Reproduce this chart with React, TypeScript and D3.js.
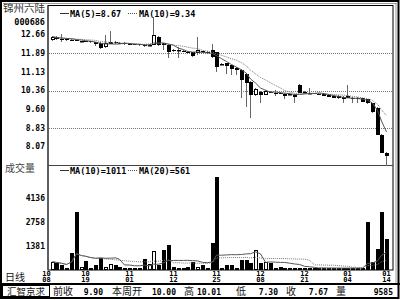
import React from "react";
import * as d3 from "d3";

const stockName = "锦州六陆";
const stockCode = "000686";

const tradeDates = [
  "10/08","10/11","10/12","10/13","10/14","10/15","10/18","10/19","10/20","10/21",
  "10/22","10/25","10/26","10/27","10/28","10/29","11/01","11/02","11/03","11/04",
  "11/05","11/08","11/09","11/10","11/11","11/12","11/15","11/16","11/17","11/18",
  "11/19","11/22","11/23","11/24","11/25","11/26","11/29","11/30","12/01","12/02",
  "12/03","12/06","12/07","12/08","12/09","12/10","12/13","12/14","12/15","12/16",
  "12/17","12/20","12/21","12/22","12/23","12/24","12/27","12/28","12/29","12/30",
  "12/31","01/04","01/05","01/06","01/07","01/10","01/11","01/12","01/13","01/14",
];

const opens = [
  12.45,12.57,12.49,12.47,12.45,12.43,12.39,12.39,12.37,12.33,
  12.29,12.16,12.28,12.33,12.31,12.31,12.27,12.26,12.25,12.24,
  12.20,12.24,12.57,12.29,12.24,12.02,12.02,12.00,11.96,11.92,
  11.88,11.98,11.96,12.04,11.92,11.41,11.47,11.39,11.30,11.22,
  11.06,10.73,10.20,10.32,10.20,10.32,10.28,10.28,10.24,10.20,
  10.20,10.61,10.30,10.28,10.26,10.24,10.24,10.20,10.16,10.16,
  10.11,10.15,10.07,10.07,10.05,10.00,9.84,9.66,8.55,7.82,
];
const closes = [
  12.57,12.49,12.47,12.45,12.43,12.39,12.40,12.35,12.33,12.25,
  12.12,12.30,12.35,12.29,12.29,12.27,12.25,12.24,12.22,12.18,
  12.24,12.65,12.24,12.24,11.96,12.00,12.04,11.96,11.88,11.79,
  12.04,11.94,11.88,11.75,11.34,11.43,11.36,11.26,11.22,10.81,
  10.69,10.20,10.44,10.20,10.36,10.28,10.26,10.24,10.16,10.24,
  10.11,10.28,10.32,10.28,10.24,10.22,10.16,10.11,10.07,10.05,
  10.03,10.07,10.04,10.01,9.90,9.84,9.47,8.55,7.82,7.67,
];
const highs = [
  12.61,12.61,12.66,12.53,12.49,12.45,12.41,12.41,12.39,12.35,
  12.33,12.65,12.78,12.37,12.33,12.33,12.29,12.28,12.27,12.26,
  12.27,13.39,12.61,12.31,12.26,12.06,12.16,12.02,11.98,11.96,
  12.57,12.00,11.98,12.25,11.94,11.47,11.49,11.41,11.32,11.24,
  11.08,10.75,10.48,10.36,10.38,10.34,10.40,10.30,10.26,10.26,
  10.24,10.63,10.34,10.48,10.28,10.26,10.26,10.22,10.18,10.18,
  10.13,10.61,10.09,10.09,10.07,10.01,9.86,9.68,8.57,7.84,
];
const lows = [
  12.41,12.45,12.33,12.41,12.40,12.37,12.36,12.33,12.31,12.20,
  12.08,12.12,12.25,12.25,12.27,12.24,12.23,12.22,12.20,12.16,
  12.18,12.22,12.20,12.04,11.71,11.96,11.71,11.92,11.85,11.75,
  11.83,11.90,11.85,11.71,11.14,11.39,11.06,11.02,11.02,10.07,
  9.70,9.25,10.16,9.87,10.18,10.26,10.16,10.22,10.03,10.18,
  9.87,10.26,10.28,10.24,10.22,10.20,10.14,10.09,10.05,10.03,
  9.87,10.05,9.87,9.87,9.88,9.82,9.45,8.53,7.80,7.30,
];
const volumes = [
  475,400,290,115,995,3350,170,535,120,290,
  706,170,345,290,170,115,115,115,115,630,
  345,1110,290,1150,1436,170,130,130,150,460,
  200,290,115,1550,5340,130,290,290,115,575,
  575,400,1150,400,460,400,130,150,120,140,
  120,100,110,130,100,110,120,100,110,110,
  110,100,105,110,100,2780,460,1210,3350,1785,
];

const priceTicks = [12.66, 11.89, 11.13, 10.36, 9.6, 8.83, 8.07];
const priceGrid = [11.89, 10.36, 8.83];
const volumeTicks = [4136, 2758, 1381];
const dateLabels = ["10/08","10/19","11/01","11/12","11/25","12/08","12/21","01/04","01/14"];

const MONO = "'DejaVu Sans Mono', monospace";
const CJK = "'Noto Sans CJK SC', sans-serif";

function movingAvg(arr: number[], n: number): number[] {
  return arr.map((_, i) => d3.mean(arr.slice(Math.max(0, i - n + 1), i + 1)) as number);
}

export default function App() {
  const W = 400, H = 300;
  const L = 48, R = 393, pTop = 5.5, pBot = 165, vBot = 270;
  const n = closes.length;
  const idx = d3.range(n);

  const x = d3.scaleBand<number>().domain(idx).range([49.6, 389.2]);
  const cx = (i: number) => Math.floor((x(i) as number) + x.bandwidth() / 2) + 0.5;
  const yP = d3.scaleLinear().domain([d3.min(lows) as number, 13.8]).range([165.5, 6.5]);
  const vStep = volumeTicks[0] - volumeTicks[1];
  const yV = d3.scaleLinear().domain([0, volumeTicks[0] + vStep]).range([vBot, 174]);

  const ma5 = movingAvg(closes, 5);
  const ma10 = movingAvg(closes, 10);
  const vma10 = movingAvg(volumes, 10);
  const vma20 = movingAvg(volumes, 20);

  const lineP = (arr: number[]) =>
    d3.line<number>().x((_, i) => cx(i)).y((d) => yP(d))(arr) as string;
  const lineV = (arr: number[]) =>
    d3.line<number>().x((_, i) => cx(i)).y((d) => yV(d))(arr) as string;

  const wk = idx.slice(n - 5);
  const prevClose = closes[n - 6];
  const weekOpen = opens[n - 5];
  const weekHigh = d3.max(wk, (i) => highs[i]) as number;
  const weekLow = d3.min(wk, (i) => lows[i]) as number;
  const weekClose = closes[n - 1];
  const weekVol = d3.sum(wk, (i) => volumes[i]);

  const up = (i: number) => closes[i] >= opens[i];

  return (
    <div style={{ position: "fixed", left: 0, top: 0, width: W, height: H, background: "#fff" }}>
      <svg width={W} height={H} style={{ display: "block" }}>
        <rect x={0} y={0} width={W} height={H} fill="#fff" />
        {/* frame */}
        <rect x={1} y={1} width={397.5} height={297} fill="none" stroke="#000" strokeWidth={2} />
        <line x1={3} x2={396.5} y1={3.5} y2={3.5} stroke="#999" />
        <line x1={396} x2={396} y1={3} y2={284} stroke="#999" />
        <rect x={L} y={pTop} width={R - L} height={vBot - pTop} fill="none" stroke="#000" strokeWidth={1} />
        <line x1={L} x2={L} y1={pTop} y2={vBot} stroke="#555" strokeWidth={1.5} />
        <line x1={L} x2={R} y1={pBot + 0.5} y2={pBot + 0.5} stroke="#444" strokeWidth={1} />
        <line x1={0} x2={W} y1={284} y2={284} stroke="#000" strokeWidth={2} />

        {/* header labels */}
        <text x={3} y={11.5} fontFamily={CJK} fontSize={10.5} fill="#333">{stockName}</text>
        <text x={45} y={24.5} textAnchor="end" fontFamily={MONO} fontWeight="bold" fontSize={8.5} fill="#000">{stockCode}</text>

        {/* price grid */}
        {priceGrid.map((p) => (
          <line key={p} x1={L + 1} x2={R} y1={Math.round(yP(p)) + 0.5} y2={Math.round(yP(p)) + 0.5}
            stroke="#777" strokeDasharray="1 1" />
        ))}
        {priceTicks.map((p) => (
          <text key={p} x={45} y={yP(p)} dy="0.35em" textAnchor="end" fontFamily={MONO}
            fontWeight="bold" fontSize={8} fill="#000">{p.toFixed(2)}</text>
        ))}

        {/* candles */}
        {idx.map((i) => {
          const c = cx(i);
          const yo = yP(opens[i]), yc = yP(closes[i]);
          const top = Math.round(Math.min(yo, yc));
          const bot = Math.max(Math.round(Math.max(yo, yc)), top + 1);
          return (
            <g key={i}>
              <line x1={c} x2={c} y1={Math.round(yP(highs[i]))} y2={Math.round(yP(lows[i]))} stroke="#666" />
              {up(i) ? (
                <rect x={c - 1} y={top + 0.5} width={3} height={Math.max(bot - top - 1, 0.5)} fill="#fff" stroke="#000" />
              ) : (
                <rect x={c - 1.5} y={top} width={4} height={bot - top} fill="#000" />
              )}
            </g>
          );
        })}
        <path d={lineP(ma10)} fill="none" stroke="#777" strokeDasharray="1 1" />
        <path d={lineP(ma5)} fill="none" stroke="#555" />

        {/* price legend */}
        <line x1={60} x2={69} y1={13.5} y2={13.5} stroke="#333" />
        <text x={70} y={16.5} fontFamily={MONO} fontWeight="bold" fontSize={8.5}>{`MA(5)=${ma5[n - 1].toFixed(2)}`}</text>
        <line x1={128} x2={138} y1={13.5} y2={13.5} stroke="#555" strokeDasharray="1 1" />
        <text x={139} y={16.5} fontFamily={MONO} fontWeight="bold" fontSize={8.5}>{`MA(10)=${ma10[n - 1].toFixed(2)}`}</text>

        {/* volume */}
        <text x={5} y={172} fontFamily={CJK} fontSize={10} fill="#444">成交量</text>
        {volumeTicks.map((v) => (
          <text key={v} x={45} y={yV(v)} dy="0.35em" textAnchor="end" fontFamily={MONO}
            fontWeight="bold" fontSize={8} fill="#000">{v}</text>
        ))}
        {idx.map((i) => {
          const c = cx(i);
          const top = Math.round(yV(volumes[i]));
          return up(i) ? (
            <rect key={i} x={c - 1} y={top + 0.5} width={3} height={Math.max(vBot - top - 1, 0.5)} fill="#fff" stroke="#000" />
          ) : (
            <rect key={i} x={c - 1.5} y={top} width={4} height={vBot - top} fill="#000" />
          );
        })}
        <path d={lineV(vma20)} fill="none" stroke="#777" strokeDasharray="1 1" />
        <path d={lineV(vma10)} fill="none" stroke="#555" />
        <line x1={60} x2={69} y1={170.5} y2={170.5} stroke="#333" />
        <text x={70} y={173.5} fontFamily={MONO} fontWeight="bold" fontSize={8.5}>{`MA(10)=${Math.round(vma10[n - 1])}`}</text>
        <line x1={128} x2={138} y1={170.5} y2={170.5} stroke="#555" strokeDasharray="1 1" />
        <text x={139} y={173.5} fontFamily={MONO} fontWeight="bold" fontSize={8.5}>{`MA(20)=${Math.round(vma20[n - 1])}`}</text>

        {/* date axis */}
        <text x={5} y={280.5} fontFamily={CJK} fontSize={10} fill="#111">日线</text>
        {dateLabels.map((d) => {
          const i = tradeDates.indexOf(d);
          const c = i === 0 ? cx(i) - 6 : cx(i);
          const [m, dd] = d.split("/");
          return (
            <g key={d}>
              <text x={c} y={275.5} textAnchor="middle" fontFamily={MONO} fontWeight="bold" fontSize={7}>{m}</text>
              <text x={c} y={282} textAnchor="middle" fontFamily={MONO} fontWeight="bold" fontSize={7}>{dd}</text>
            </g>
          );
        })}

        {/* info bar */}
        <rect x={2.5} y={285.5} width={47} height={11} fill="none" stroke="#000" />
        <text x={26} y={295} textAnchor="middle" fontFamily={CJK} fontSize={9.5} fill="#111">汇智京求</text>
        <text x={53} y={295} fontFamily={CJK} fontSize={10} fill="#111">前收</text>
        <text x={103} y={294.5} textAnchor="end" fontFamily={MONO} fontWeight="bold" fontSize={8}>{prevClose.toFixed(2)}</text>
        <text x={112} y={295} fontFamily={CJK} fontSize={10} fill="#111">本周开</text>
        <text x={176} y={294.5} textAnchor="end" fontFamily={MONO} fontWeight="bold" fontSize={8}>{weekOpen.toFixed(2)}</text>
        <text x={184} y={295} fontFamily={CJK} fontSize={10} fill="#111">高</text>
        <text x={221} y={294.5} textAnchor="end" fontFamily={MONO} fontWeight="bold" fontSize={8}>{weekHigh.toFixed(2)}</text>
        <text x={236} y={295} fontFamily={CJK} fontSize={10} fill="#111">低</text>
        <text x={278} y={294.5} textAnchor="end" fontFamily={MONO} fontWeight="bold" fontSize={8}>{weekLow.toFixed(2)}</text>
        <text x={286} y={295} fontFamily={CJK} fontSize={10} fill="#111">收</text>
        <text x={328} y={294.5} textAnchor="end" fontFamily={MONO} fontWeight="bold" fontSize={8}>{weekClose.toFixed(2)}</text>
        <text x={336} y={295} fontFamily={CJK} fontSize={10} fill="#111">量</text>
        <text x={393} y={294.5} textAnchor="end" fontFamily={MONO} fontWeight="bold" fontSize={8}>{weekVol}</text>
      </svg>
    </div>
  );
}
